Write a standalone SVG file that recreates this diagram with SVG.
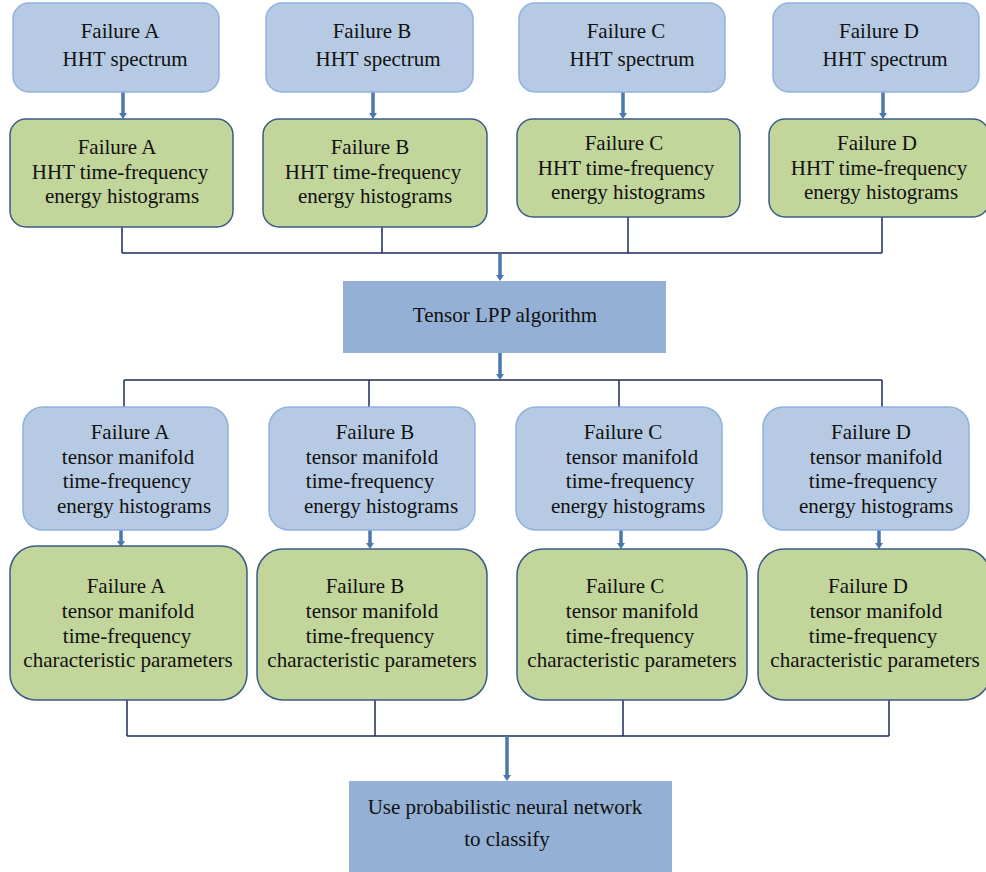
<svg xmlns="http://www.w3.org/2000/svg" width="986" height="872" viewBox="0 0 986 872">
<defs>
<style>
.blue{fill:#b6cae3;stroke:#8fb2de;stroke-width:1.5}
.green{fill:#c2d59b;stroke:#3b5b86;stroke-width:1.5}
.dark{fill:#94b0d4;stroke:none}
.t{font-family:'Liberation Serif','Times New Roman',serif;font-size:21px;fill:#111;text-anchor:middle}
.bus{fill:none;stroke:#1e2a5e;stroke-width:1.5}
.arr{stroke:#4a78ad;stroke-width:3.5;fill:none}
.tip{fill:#4a78ad}
</style>
</defs>
<rect width="986" height="872" fill="#fff"/>

<g id="connectors">
<path class="bus" d="M122,227V253M382,227V253M628,217V253M882,217V253M122,253H882"/>
<path class="bus" d="M124,380H882M124,380V407M369,380V407M619,380V407M882,380V407"/>
<path class="bus" d="M127,700V736M375,700V736M623,700V736M889,700V736M127,736H889"/>
<g>
<line class="arr" x1="123" y1="92" x2="123" y2="114"/><path class="tip" d="M119,113H127L123,119Z"/>
<line class="arr" x1="373" y1="92" x2="373" y2="114"/><path class="tip" d="M369,113H377L373,119Z"/>
<line class="arr" x1="623" y1="92" x2="623" y2="114"/><path class="tip" d="M619,113H627L623,119Z"/>
<line class="arr" x1="883" y1="92" x2="883" y2="114"/><path class="tip" d="M879,113H887L883,119Z"/>
<line class="arr" x1="500" y1="253" x2="500" y2="276"/><path class="tip" d="M496,275H504L500,281Z"/>
<line class="arr" x1="500" y1="353" x2="500" y2="375"/><path class="tip" d="M496,374H504L500,380Z"/>
<line class="arr" x1="121" y1="530" x2="121" y2="542"/><path class="tip" d="M117,541H125L121,547Z"/>
<line class="arr" x1="370" y1="530" x2="370" y2="544"/><path class="tip" d="M366,543H374L370,549Z"/>
<line class="arr" x1="621" y1="530" x2="621" y2="544"/><path class="tip" d="M617,543H625L621,549Z"/>
<line class="arr" x1="879" y1="530" x2="879" y2="544"/><path class="tip" d="M875,543H883L879,549Z"/>
<line class="arr" x1="507" y1="736" x2="507" y2="776"/><path class="tip" d="M503,775H511L507,781Z"/>
</g>
</g>

<g id="specA"><rect class="blue" x="13" y="3" width="206" height="89" rx="16"/>
<text class="t" x="120" y="38">Failure A</text><text class="t" x="125" y="66">HHT spectrum</text></g>
<g id="specB"><rect class="blue" x="266" y="3" width="207" height="89" rx="16"/>
<text class="t" x="372" y="38">Failure B</text><text class="t" x="378" y="66">HHT spectrum</text></g>
<g id="specC"><rect class="blue" x="519" y="3" width="206" height="89" rx="16"/>
<text class="t" x="626" y="38">Failure C</text><text class="t" x="632" y="66">HHT spectrum</text></g>
<g id="specD"><rect class="blue" x="773" y="3" width="206" height="89" rx="16"/>
<text class="t" x="879" y="38">Failure D</text><text class="t" x="885" y="66">HHT spectrum</text></g>

<g id="histA"><rect class="green" x="10" y="119" width="223" height="108" rx="16"/>
<text class="t" x="117" y="154">Failure A</text><text class="t" x="120" y="179">HHT time-frequency</text><text class="t" x="122" y="203">energy histograms</text></g>
<g id="histB"><rect class="green" x="263" y="119" width="224" height="108" rx="16"/>
<text class="t" x="370" y="154">Failure B</text><text class="t" x="373" y="179">HHT time-frequency</text><text class="t" x="375" y="203">energy histograms</text></g>
<g id="histC"><rect class="green" x="517" y="119" width="223" height="98" rx="16"/>
<text class="t" x="624" y="150">Failure C</text><text class="t" x="626" y="175">HHT time-frequency</text><text class="t" x="628" y="199">energy histograms</text></g>
<g id="histD"><rect class="green" x="769" y="119" width="220" height="98" rx="16"/>
<text class="t" x="877" y="150">Failure D</text><text class="t" x="879" y="175">HHT time-frequency</text><text class="t" x="881" y="199">energy histograms</text></g>

<g id="lpp"><rect class="dark" x="343" y="281" width="323" height="72"/>
<text class="t" x="505" y="322">Tensor LPP algorithm</text></g>

<g id="manA"><rect class="blue" x="23" y="407" width="205" height="123" rx="20"/>
<text class="t" x="130" y="439">Failure A</text><text class="t" x="128" y="464">tensor manifold</text><text class="t" x="127" y="488">time-frequency</text><text class="t" x="134" y="513">energy histograms</text></g>
<g id="manB"><rect class="blue" x="269" y="407" width="206" height="123" rx="20"/>
<text class="t" x="375" y="439">Failure B</text><text class="t" x="372" y="464">tensor manifold</text><text class="t" x="370" y="488">time-frequency</text><text class="t" x="381" y="513">energy histograms</text></g>
<g id="manC"><rect class="blue" x="516" y="407" width="206" height="123" rx="20"/>
<text class="t" x="623" y="439">Failure C</text><text class="t" x="632" y="464">tensor manifold</text><text class="t" x="630" y="488">time-frequency</text><text class="t" x="628" y="513">energy histograms</text></g>
<g id="manD"><rect class="blue" x="763" y="407" width="206" height="123" rx="20"/>
<text class="t" x="871" y="439">Failure D</text><text class="t" x="876" y="464">tensor manifold</text><text class="t" x="873" y="488">time-frequency</text><text class="t" x="876" y="513">energy histograms</text></g>

<g id="parA"><rect class="green" x="10" y="546" width="237" height="154" rx="26"/>
<text class="t" x="126" y="593">Failure A</text><text class="t" x="128" y="618">tensor manifold</text><text class="t" x="127" y="643">time-frequency</text><text class="t" x="128" y="667">characteristic parameters</text></g>
<g id="parB"><rect class="green" x="257" y="549" width="230" height="151" rx="26"/>
<text class="t" x="365" y="593">Failure B</text><text class="t" x="372" y="618">tensor manifold</text><text class="t" x="370" y="643">time-frequency</text><text class="t" x="372" y="667">characteristic parameters</text></g>
<g id="parC"><rect class="green" x="517" y="549" width="230" height="151" rx="26"/>
<text class="t" x="625" y="593">Failure C</text><text class="t" x="632" y="618">tensor manifold</text><text class="t" x="630" y="643">time-frequency</text><text class="t" x="632" y="667">characteristic parameters</text></g>
<g id="parD"><rect class="green" x="758" y="549" width="232" height="151" rx="26"/>
<text class="t" x="868" y="593">Failure D</text><text class="t" x="876" y="618">tensor manifold</text><text class="t" x="873" y="643">time-frequency</text><text class="t" x="875" y="667">characteristic parameters</text></g>

<g id="pnn"><rect class="dark" x="349" y="781" width="323" height="95"/>
<text class="t" x="505" y="814">Use probabilistic neural network</text><text class="t" x="507" y="846">to classify</text></g>
</svg>
